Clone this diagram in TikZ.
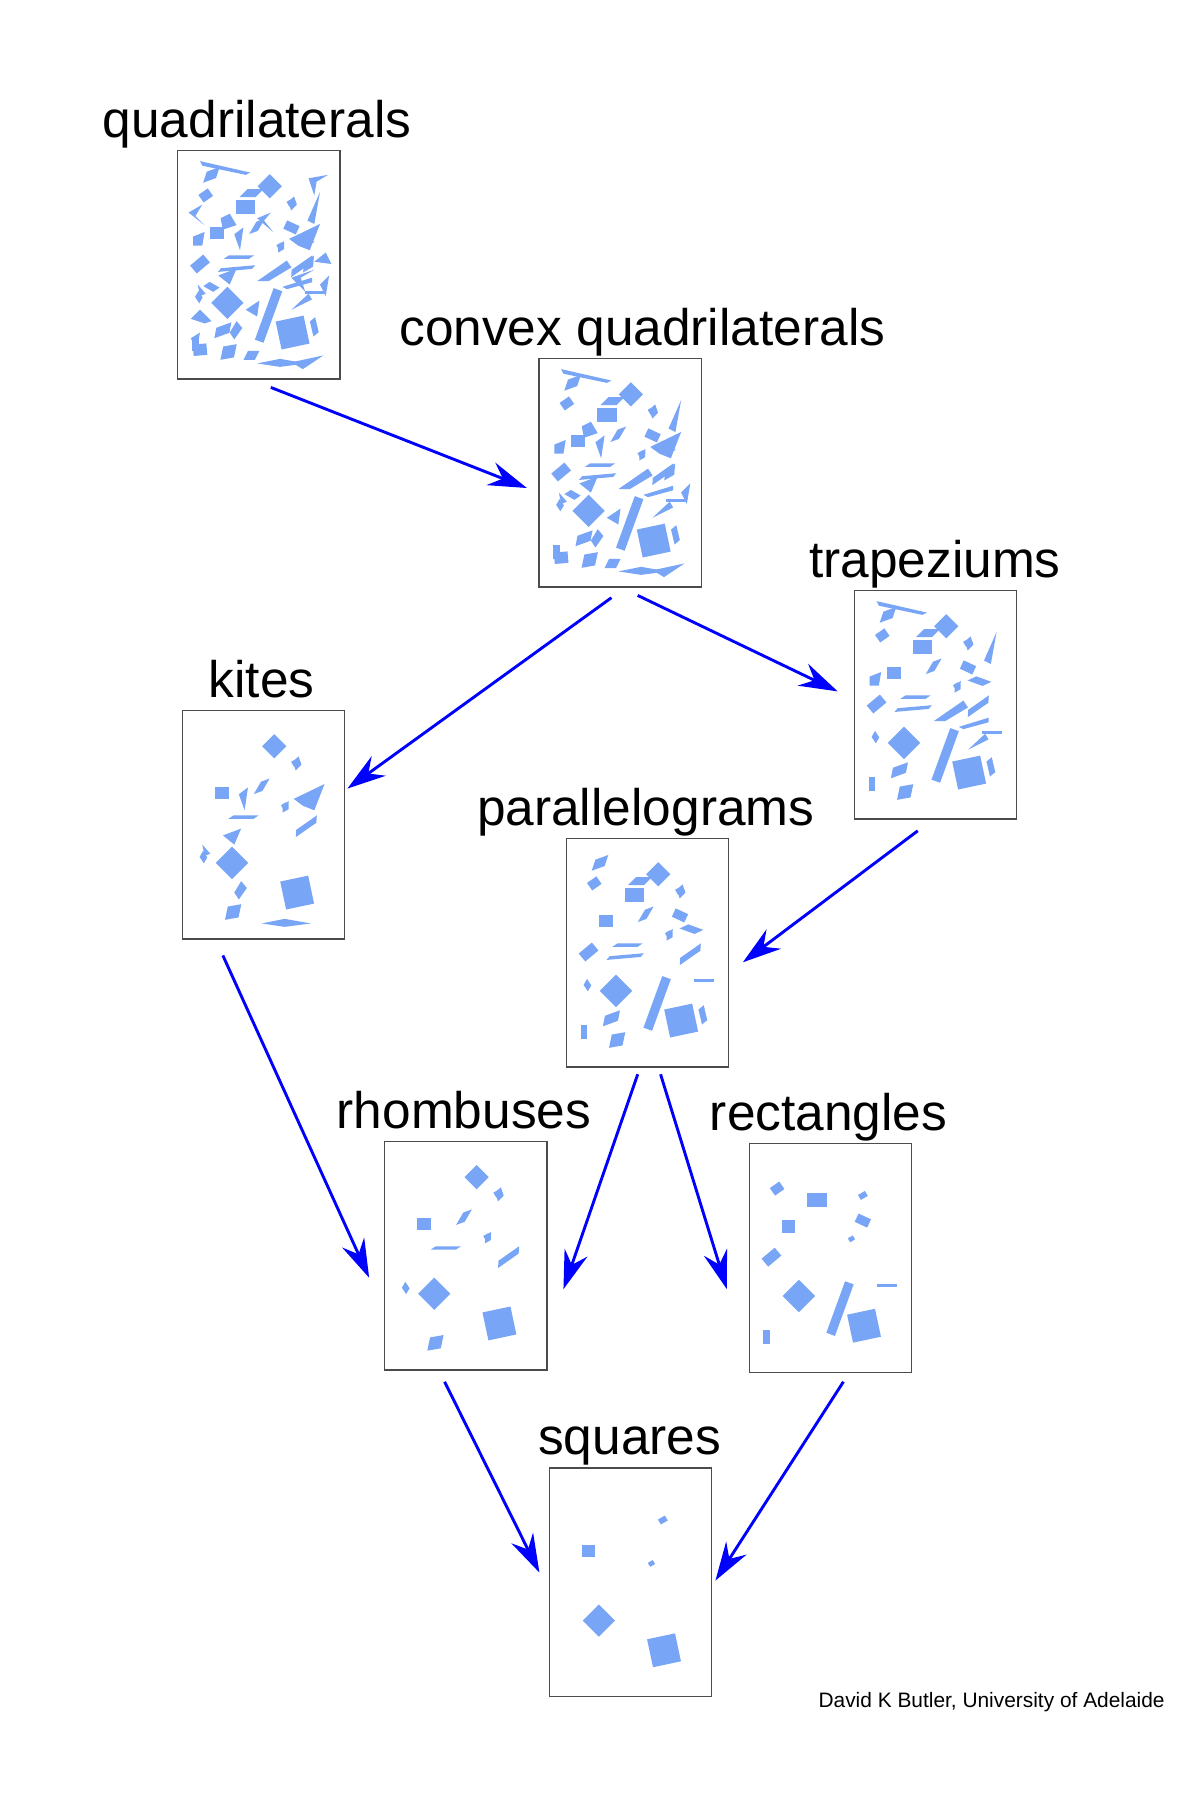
\documentclass[tikz,border=0pt]{standalone}
\usepackage{fontspec}
\setmainfont{Liberation Sans}
\usetikzlibrary{arrows.meta}
\definecolor{shp}{RGB}{120,165,245}
\newcommand{\rr}[6]{\fill[shp,shift={(#1,#2)},rotate=#5,xslant=#6] (-#3/2,-#4/2) rectangle (#3/2,#4/2);}
\newcommand{\shS}{\rr{35}{73}{12}{11}{0}{0}\rr{100}{46}{7}{5}{30}{0}\rr{90}{84}{5}{4}{30}{0}\rr{44}{134}{20}{20}{45}{0}\rr{101}{160}{25}{25}{12}{0}}
\newcommand{\shR}{\rr{25}{40}{10}{8}{35}{0}\rr{60}{50}{17}{12}{0}{0}\rr{100}{68}{12}{8}{-25}{0}\rr{20}{100}{15}{9}{40}{0}\rr{80}{145}{8}{48}{-20}{0}\rr{121}{125}{18}{3}{0}{0}\rr{16}{170}{6}{12}{0}{0}}
\newcommand{\shH}{\rr{81}{32}{15}{15}{45}{0}\rr{101}{47}{7}{7}{45}{0.5}\rr{70}{67}{8}{8}{20}{1.2}\rr{54}{94}{22}{3}{0}{1.5}\rr{91}{85}{6}{6}{30}{0.6}\rr{109}{102}{22}{5}{35}{0.8}\rr{19}{129}{6}{6}{60}{0.5}\rr{45}{177}{12}{11}{10}{0.4}}
\newcommand{\shP}{\rr{30}{22}{12}{8}{20}{0.8}\rr{65}{38}{14}{7}{0}{1}\rr{52}{104}{30}{3}{5}{1}\rr{110}{80}{14}{6}{-20}{1}\rr{40}{158}{14}{8}{20}{0.6}\rr{120}{155}{6}{12}{40}{0.5}}
\newcommand{\shT}{\fill[shp] (20,10) -- (64,20) -- (60,22) -- (22,14) -- cycle; \fill[shp] (125,37) -- (120,65) -- (114,62) -- cycle; \fill[shp] (70,115) -- (96,97) -- (100,103) -- (80,115) -- cycle; \fill[shp] (100,140) -- (115,126) -- (118,131) -- cycle; \fill[shp] (14,76) -- (24,72) -- (22,84) -- (14,84) -- cycle; \fill[shp] (92,120) -- (118,112) -- (118,116) -- (96,122) -- cycle;}
\newcommand{\shK}{\fill[shp] (98,78) -- (125,65) -- (116,88) -- (106,84) -- cycle; \fill[shp] (50,74) -- (58,68) -- (55,88) -- cycle; \fill[shp] (90,183) -- (113,187) -- (90,190) -- (70,187) -- cycle; \fill[shp] (36,110) -- (52,104) -- (46,118) -- cycle; \fill[shp] (18,118) -- (25,126) -- (20,128) -- cycle; \fill[shp] (52,150) -- (57,156) -- (50,166) -- (46,160) -- cycle;}
\newcommand{\shC}{\rr{20}{175}{12}{10}{5}{0}\rr{65}{180}{10}{8}{0}{0.5}\rr{115}{100}{10}{8}{30}{0.7}\rr{30}{120}{10}{6}{-30}{0.5}\fill[shp] (38,60) -- (46,56) -- (52,66) -- (40,70) -- cycle; \fill[shp] (125,118) -- (133,110) -- (130,128) -- cycle; \fill[shp] (60,140) -- (72,132) -- (70,146) -- cycle; \fill[shp] (100,186) -- (128,180) -- (110,192) -- cycle;}
\newcommand{\shN}{\fill[shp] (10,55) -- (22,48) -- (16,58) -- (24,66) -- cycle; \fill[shp] (115,25) -- (132,22) -- (122,28) -- (120,40) -- cycle; \fill[shp] (20,140) -- (30,150) -- (24,152) -- (12,148) -- cycle; \fill[shp] (70,60) -- (82,55) -- (76,62) -- (84,72) -- cycle; \fill[shp] (130,90) -- (135,100) -- (120,98) -- cycle; \fill[shp] (12,165) -- (20,160) -- (17,176) -- cycle; \fill[shp] (100,112) -- (120,105) -- (108,112) -- (112,124) -- cycle;}
\begin{document}
\begin{tikzpicture}[x=0.025cm,y=-0.025cm,
  box/.style={draw=black!70,line width=0.8pt,minimum width=3.55cm,minimum height=5cm,inner sep=0,anchor=north west,fill=white},
  lbl/.style={font=\fontsize{32}{34}\selectfont,anchor=base},
  arr/.style={draw=blue,line width=1.8pt,-{Stealth[length=24pt,width=15pt,inset=8pt]}}]
\useasboundingbox (0,0) rectangle (1050,1575);
\fill[white] (0,0) rectangle (1050,1575);
\newcommand{\panel}[6]{\node[box] (#1) at (#2,#3) {}; \node[lbl] (#1l) at (#6,#3-11) {#4}; \begin{scope}[shift={(#2,#3)}] #5 \end{scope}}
\panel{q}{155}{131}{quadrilaterals}{\shS\shR\shH\shP\shT\shK\shC\shN}{225}
\panel{c}{471}{313}{convex quadrilaterals}{\shS\shR\shH\shP\shT\shK\shC}{562}
\panel{t}{747}{516}{trapeziums}{\shS\shR\shH\shP\shT}{818}
\panel{k}{159}{621}{kites}{\shS\shH\shK}{229}
\panel{p}{495}{733}{parallelograms}{\shS\shR\shH\shP}{565}
\panel{h}{336}{998}{rhombuses}{\shS\shH}{406}
\panel{r}{655}{1000}{rectangles}{\shS\shR}{725}
\panel{s}{480}{1284}{squares}{\shS}{551}
\node[anchor=base east,font=\fontsize{13}{15}\selectfont] (cr) at (1024,1494) {David K Butler, University of Adelaide};
\foreach \n/\a/\b in {a1/237/339,b1/461/427,a2/535/523,b2/304/690,a3/558/521,b3/733/605,a4/803/727,b4/650/842,a5/195/836,b5/323/1118,a6/558/940,b6/493/1128,a7/578/940,b7/636/1128,a8/389/1209,b8/472/1376,a9/738/1209,b9/626/1383}
  \coordinate (\n) at (\a,\b);
\foreach \i in {1,...,9} \draw[arr] (a\i) -- (b\i);
\end{tikzpicture}
\end{document}
